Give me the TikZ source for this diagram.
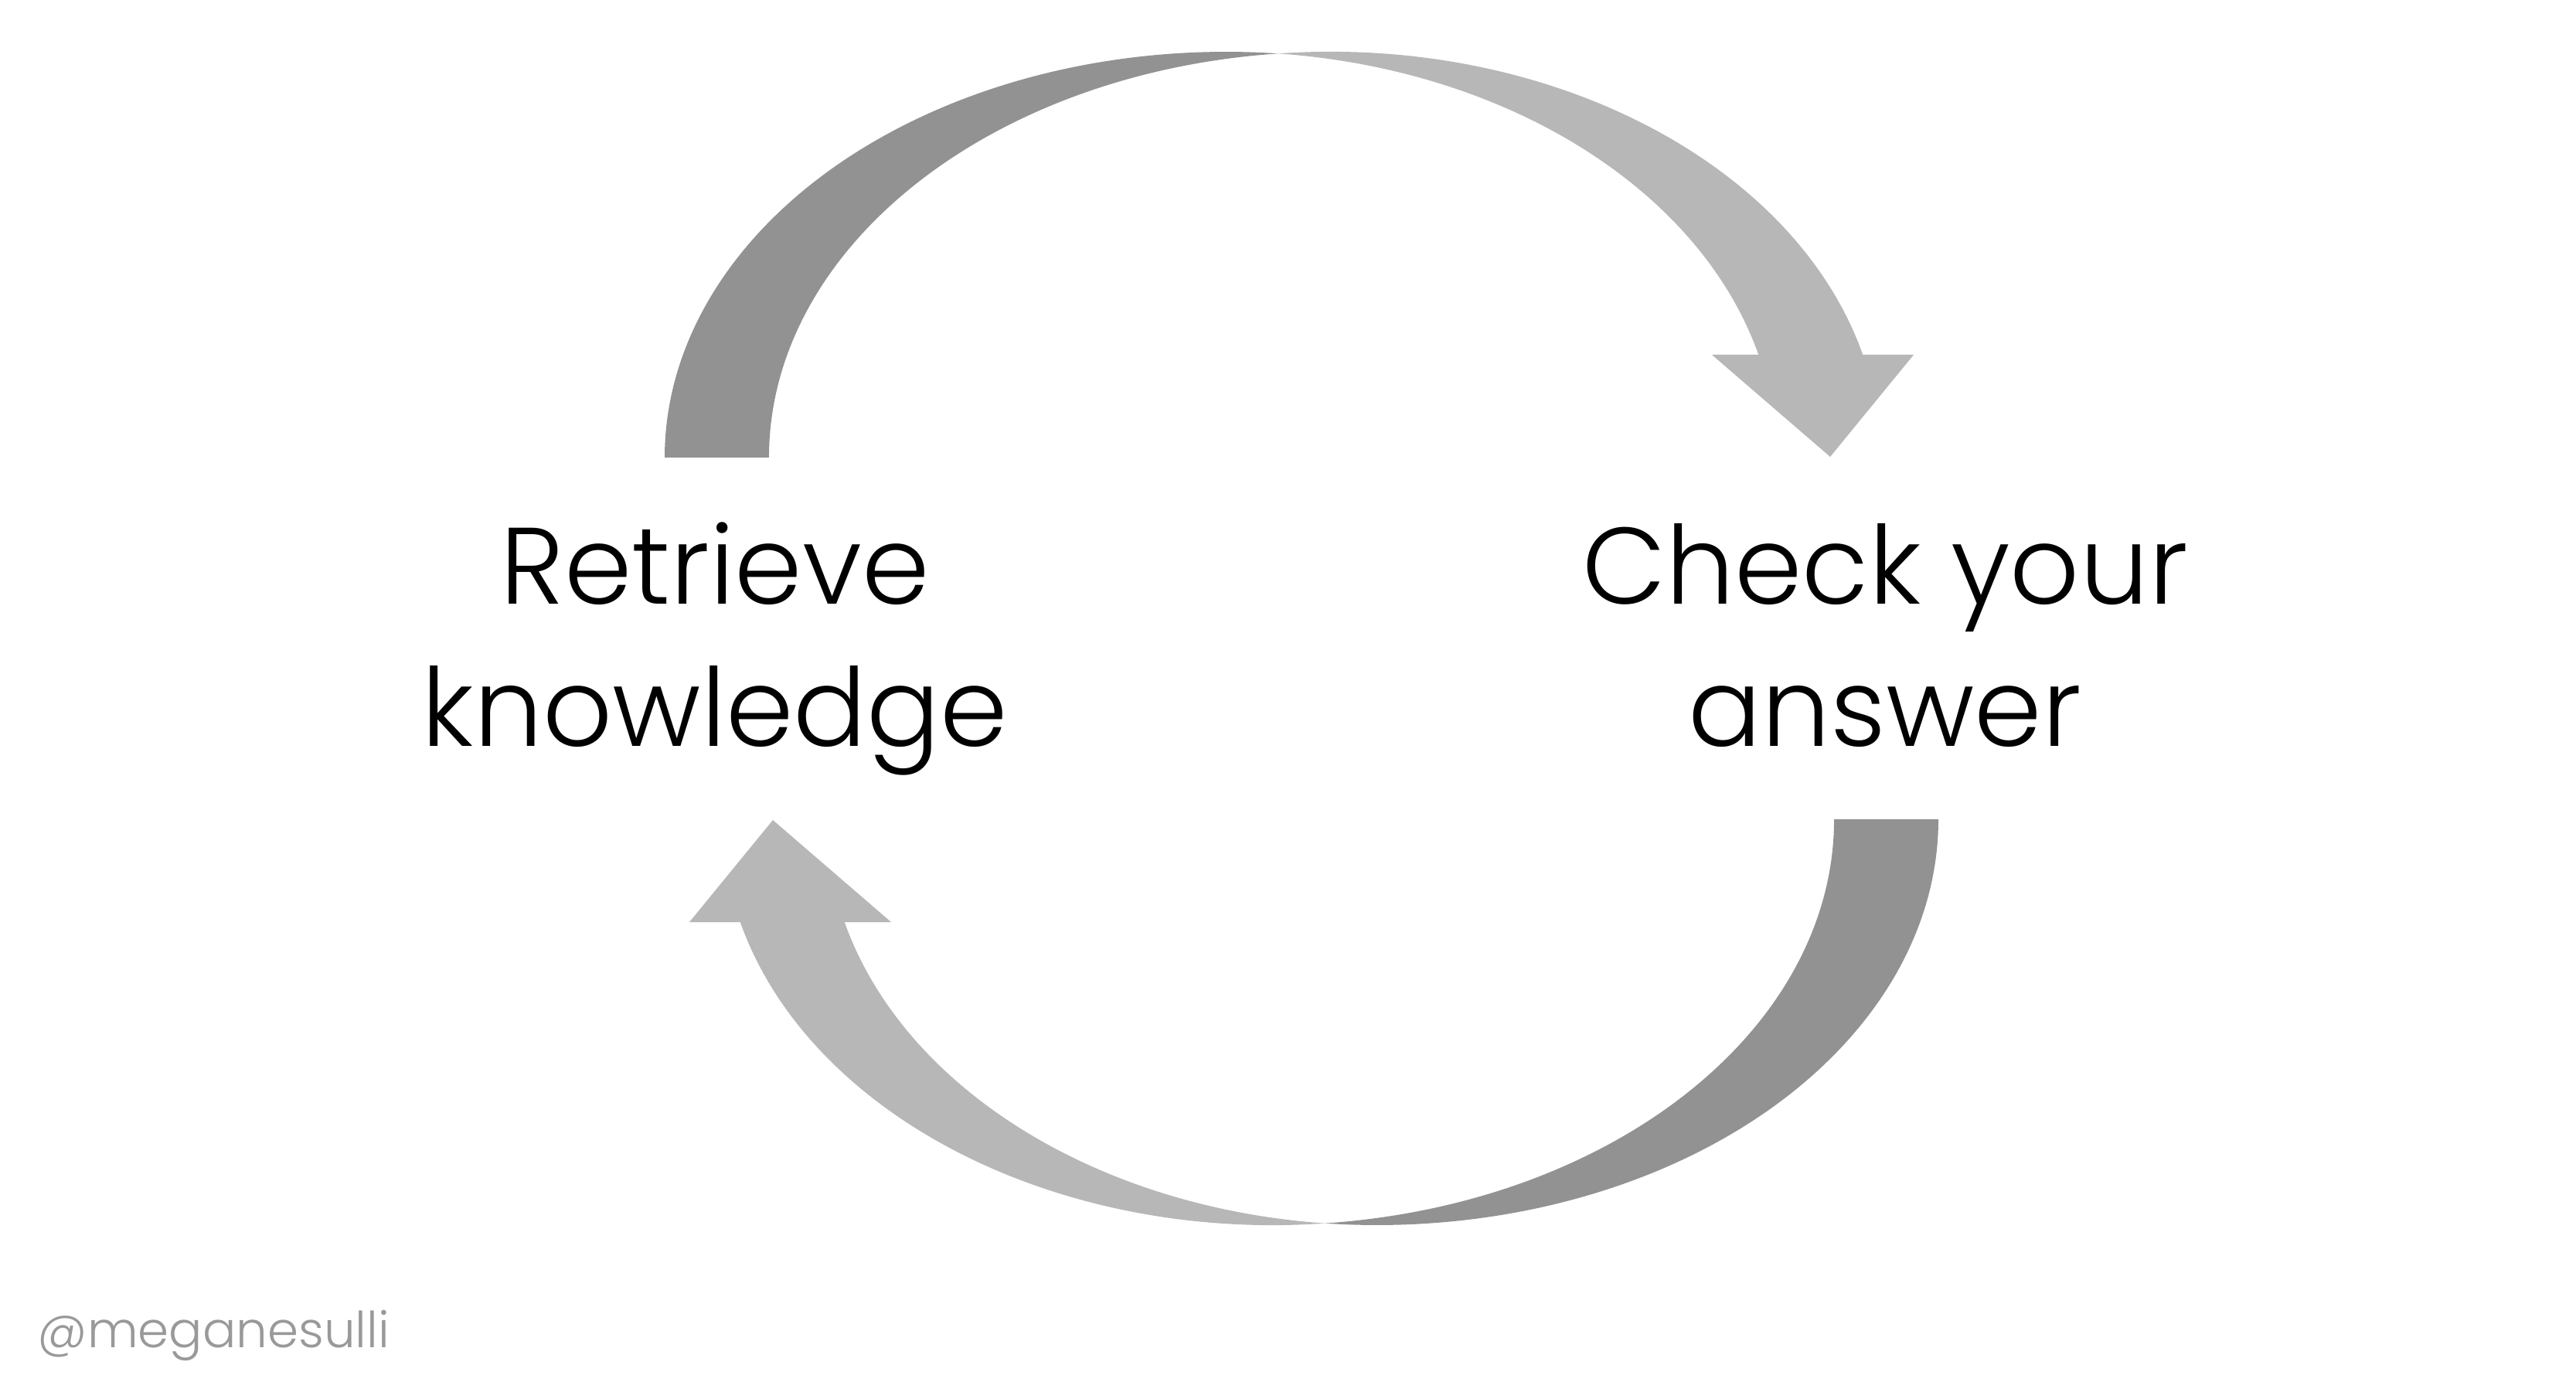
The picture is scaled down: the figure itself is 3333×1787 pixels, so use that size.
\documentclass[tikz,border=0pt]{standalone}
\usepackage{fontspec}
\setmainfont{Poppins}[UprightFont=* Light]
\definecolor{darkband}{RGB}{146,146,146}
\definecolor{lightband}{RGB}{183,183,183}
\definecolor{handlegray}{RGB}{153,153,153}
\tikzset{
  labeltext/.style={align=center, inner sep=0pt, anchor=base, text=black,
    font=\fontsize{40pt}{52.5pt}\selectfont},
  handletext/.style={inner sep=0pt, anchor=base west, text=handlegray,
    font=\fontsize{18.3pt}{22pt}\selectfont},
}
\newcommand{\cyclepair}{%
  \fill[darkband] (860,1195)
    arc[start angle=180, end angle=84.67, x radius=726.5, y radius=525]
    arc[start angle=95.33, end angle=180, x radius=726.5, y radius=525] -- cycle;
  \fill[lightband] (1654,1717.7)
    arc[start angle=95.44, end angle=14.67, x radius=712, y radius=525]
    -- (2476,1328) -- (2368,1196) -- (2215,1328) -- (2275.3,1328)
    arc[start angle=14.67, end angle=84.56, x radius=712, y radius=525] -- cycle;
}
\begin{document}
\begin{tikzpicture}[x=0.1mm, y=0.1mm]
\useasboundingbox (0,0) rectangle (3333,1787);
\fill[white] (0,0) rectangle (3333,1787);
\begin{scope}
  \cyclepair
\end{scope}
\begin{scope}[rotate around={180:(1684,961)}]
  \cyclepair
\end{scope}
\node[labeltext] (retrieve) at (925,821) {Retrieve\\knowledge};
\node[labeltext] (check) at (2439,821) {Check your\\answer};
\node[handletext] (handle) at (48,44) {@meganesulli};
\end{tikzpicture}
\end{document}
